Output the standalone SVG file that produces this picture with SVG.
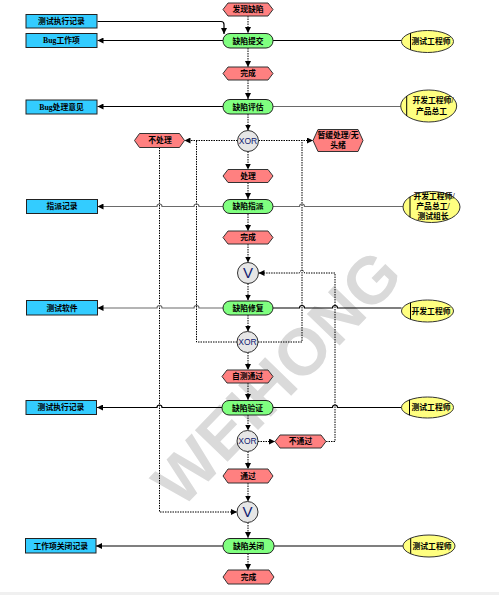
<svg xmlns="http://www.w3.org/2000/svg" width="499" height="595" viewBox="0 0 499 595">
<style>
.t{font-family:"Liberation Serif","Noto Sans CJK SC",serif;font-size:7.8px;fill:#000;text-anchor:middle;font-weight:bold}
.s{font-family:"Liberation Sans",Arial,sans-serif;fill:#101a70;text-anchor:middle}
.blue{fill:#33ccff;stroke:#222;stroke-width:1}
.green{fill:#80ff80;stroke:#222;stroke-width:1}
.red{fill:#ff8080;stroke:#333;stroke-width:1}
.yel{fill:#ffff80;stroke:#333;stroke-width:1}
.gate{fill:#e6e6e6;stroke:#333;stroke-width:1}
.dot{fill:none;stroke:#000;stroke-width:1;stroke-dasharray:1.5 1}
.sol{fill:none;stroke:#000;stroke-width:1.2}
.gry{fill:none;stroke:#6a6a6a;stroke-width:1.2}
.wm{font-family:"Liberation Sans",Arial,sans-serif;font-size:66px;font-weight:bold;fill:#dadada;text-anchor:middle}
</style>
<defs>
<marker id="a" viewBox="0 0 10 10" refX="10" refY="5" markerWidth="6" markerHeight="6" markerUnits="userSpaceOnUse" orient="auto"><path d="M0,0 L10,5 L0,10 z" fill="#000"/></marker>
</defs>
<rect x="0" y="0" width="499" height="595" fill="#fff"/>
<rect x="0" y="592" width="499" height="3" fill="#f0f0f0"/>
<text class="wm" transform="translate(276,377) rotate(-46)" x="0" y="24">WEIHONG</text>

<g id="connectors">
<path class="dot" marker-end="url(#a)" d="M248,16 V33"/>
<path class="dot" marker-end="url(#a)" d="M248,48 V67"/>
<path class="dot" marker-end="url(#a)" d="M248,80 V99"/>
<path class="dot" marker-end="url(#a)" d="M248,114 V130.5"/>
<path class="dot" marker-end="url(#a)" d="M248,151.5 V169.5"/>
<path class="dot" marker-end="url(#a)" d="M248,182.5 V199"/>
<path class="dot" marker-end="url(#a)" d="M248,214 V231"/>
<path class="dot" marker-end="url(#a)" d="M248,244 V262.5"/>
<path class="dot" marker-end="url(#a)" d="M248,283.5 V300.5"/>
<path class="dot" marker-end="url(#a)" d="M248,315 V331.5"/>
<path class="dot" marker-end="url(#a)" d="M248,352.5 V370"/>
<path class="dot" marker-end="url(#a)" d="M248,383 V400"/>
<path class="dot" marker-end="url(#a)" d="M248,415 V430.5"/>
<path class="dot" marker-end="url(#a)" d="M248,451.5 V469"/>
<path class="dot" marker-end="url(#a)" d="M248,483 V501.5"/>
<path class="dot" marker-end="url(#a)" d="M248,522.5 V538"/>
<path class="dot" marker-end="url(#a)" d="M248,553.5 V570"/>
<path class="dot" marker-end="url(#a)" d="M237.5,140.5 H184.5"/>
<path class="dot" marker-end="url(#a)" d="M258.5,140.5 H313"/>
<path class="dot" d="M237,342 H196.5 V140.5"/>
<path class="dot" d="M258,342 H302 V140.5"/>
<path class="dot" marker-end="url(#a)" d="M159.5,147.5 V512 H237"/>
<path class="dot" marker-end="url(#a)" d="M258,441.5 H275"/>
<path class="dot" marker-end="url(#a)" d="M326,441.5 H335 V273 H304.5 A2.5,2.5 0 0 0 299.5,273 H258.5"/>
<path class="sol" marker-end="url(#a)" d="M97.5,21.5 H221 Q224,21.5 224,24.5 V34"/>
<path class="sol" marker-end="url(#a)" d="M223,40.5 H97.5"/>
<path class="sol" d="M273,40.5 H401.5"/>
<path class="sol" marker-end="url(#a)" d="M223,106.5 H97.5"/>
<path class="gry" d="M273,106.5 H400.7"/>
<path class="gry" marker-end="url(#a)" d="M223,206.5 H199 A2.5,2.5 0 0 0 194,206.5 H162 A2.5,2.5 0 0 0 157,206.5 H97.5"/>
<path class="gry" d="M273,206.5 H299.5 A2.5,2.5 0 0 1 304.5,206.5 H403"/>
<path class="gry" marker-end="url(#a)" d="M223,308 H199 A2.5,2.5 0 0 0 194,308 H162 A2.5,2.5 0 0 0 157,308 H97.5"/>
<path class="sol" d="M273,308 H299.5 A2.5,2.5 0 0 1 304.5,308 H332.5 A2.5,2.5 0 0 1 337.5,308 H401.5"/>
<path class="sol" marker-end="url(#a)" d="M222,407.5 H162 A2.5,2.5 0 0 0 157,407.5 H97"/>
<path class="sol" d="M273,407.5 H332.5 A2.5,2.5 0 0 1 337.5,407.5 H401.5"/>
<path class="sol" marker-end="url(#a)" d="M223,546 H96"/>
<path class="sol" d="M274,546 H403"/>
</g>

<g id="n-found"><polygon class="red" points="223,9.5 228,3 268,3 273,9.5 268,16 228,16"/><text class="t" x="248" y="12.3">发现缺陷</text></g>
<g id="n-rec1"><rect class="blue" x="26" y="14.5" width="71" height="13.5"/><text class="t" x="61.5" y="24">测试执行记录</text></g>
<g id="n-bug"><rect class="blue" x="26" y="33.5" width="71" height="14"/><text class="t" x="61.5" y="43.3">Bug工作项</text></g>
<g id="n-submit"><rect class="green" x="223" y="33.5" width="50" height="14.5" rx="7"/><text class="t" x="248" y="43.5">缺陷提交</text></g>
<g id="n-r1"><ellipse class="yel" cx="427.5" cy="41.5" rx="26" ry="11"/><line x1="410.5" y1="33.2" x2="410.5" y2="49.8" stroke="#000" stroke-width="1"/><text class="t" x="431" y="44.3">测试工程师</text></g>
<g id="n-done1"><polygon class="red" points="223,73.5 228,67 268,67 273,73.5 268,80 228,80"/><text class="t" x="248" y="76.3">完成</text></g>
<g id="n-opinion"><rect class="blue" x="26" y="100" width="71" height="14"/><text class="t" x="61.5" y="109.8">Bug处理意见</text></g>
<g id="n-eval"><rect class="green" x="223" y="99.5" width="50" height="14.5" rx="7"/><text class="t" x="248" y="109.5">缺陷评估</text></g>
<g id="n-r2"><ellipse class="yel" cx="428.7" cy="106" rx="28" ry="16"/><line x1="406.7" y1="96.1" x2="406.7" y2="115.9" stroke="#000" stroke-width="1"/><text class="t" x="433" y="103">开发工程师/</text><text class="t" x="431.5" y="113.8">产品总工</text></g>
<g id="n-xor1"><circle class="gate" cx="248" cy="141" r="10.5"/><text class="s" x="248" y="144" font-size="8.5">XOR</text></g>
<g id="n-noproc"><polygon class="red" points="134.5,140.5 139.5,133.5 179.5,133.5 184.5,140.5 179.5,147.5 139.5,147.5"/><text class="t" x="160" y="143.3">不处理</text></g>
<g id="n-defer"><polygon class="red" points="313,140.5 318,129.5 358,129.5 363,140.5 358,151.5 318,151.5"/><text class="t" x="338" y="137.5">暂缓处理/无</text><text class="t" x="338" y="147.8">头绪</text></g>
<g id="n-proc"><polygon class="red" points="223,176 228,169.5 268,169.5 273,176 268,182.5 228,182.5"/><text class="t" x="248" y="178.8">处理</text></g>
<g id="n-assignrec"><rect class="blue" x="26.5" y="199.5" width="71" height="14"/><text class="t" x="62" y="209.3">指派记录</text></g>
<g id="n-assign"><rect class="green" x="223" y="199.5" width="50" height="14" rx="7"/><text class="t" x="248" y="209.3">缺陷指派</text></g>
<g id="n-r3"><ellipse class="yel" cx="431.5" cy="207" rx="28.5" ry="15.5"/><line x1="410" y1="196.8" x2="410" y2="217.2" stroke="#000" stroke-width="1"/><text class="t" x="434" y="198.8">开发工程师/</text><text class="t" x="433" y="208.8">产品总工/</text><text class="t" x="433" y="218.8">测试组长</text></g>
<g id="n-done2"><polygon class="red" points="223,237.5 228,231 268,231 273,237.5 268,244 228,244"/><text class="t" x="248" y="240.3">完成</text></g>
<g id="n-v1"><circle class="gate" cx="248" cy="273" r="10.5"/><text class="s" x="248" y="278.3" font-size="15">V</text></g>
<g id="n-soft"><rect class="blue" x="26.5" y="300.5" width="71" height="14.5"/><text class="t" x="62" y="310.5">测试软件</text></g>
<g id="n-fix"><rect class="green" x="223" y="301" width="50" height="14" rx="7"/><text class="t" x="248" y="310.8">缺陷修复</text></g>
<g id="n-r4"><ellipse class="yel" cx="427.5" cy="311" rx="26" ry="11"/><line x1="410.5" y1="302.7" x2="410.5" y2="319.3" stroke="#000" stroke-width="1"/><text class="t" x="431" y="313.8">开发工程师</text></g>
<g id="n-xor2"><circle class="gate" cx="247.5" cy="342" r="10.5"/><text class="s" x="247.5" y="345" font-size="8.5">XOR</text></g>
<g id="n-selftest"><polygon class="red" points="222,376.5 227,370 268,370 273,376.5 268,383 227,383"/><text class="t" x="247.5" y="379.3">自测通过</text></g>
<g id="n-rec2"><rect class="blue" x="26" y="400.5" width="70.5" height="14"/><text class="t" x="61" y="410.3">测试执行记录</text></g>
<g id="n-verify"><rect class="green" x="222" y="400.5" width="51" height="14.5" rx="7"/><text class="t" x="247.5" y="410.5">缺陷验证</text></g>
<g id="n-r5"><ellipse class="yel" cx="427.5" cy="407.5" rx="26" ry="10.5"/><line x1="409.5" y1="399.7" x2="409.5" y2="415.3" stroke="#000" stroke-width="1"/><text class="t" x="431" y="410.3">测试工程师</text></g>
<g id="n-xor3"><circle class="gate" cx="247.5" cy="441" r="10.5"/><text class="s" x="247.5" y="444" font-size="8.5">XOR</text></g>
<g id="n-fail"><polygon class="red" points="275,441.5 280,435 321,435 326,441.5 321,448 280,448"/><text class="t" x="300.5" y="444.3">不通过</text></g>
<g id="n-pass"><polygon class="red" points="223,476 228,469 268,469 273,476 268,483 228,483"/><text class="t" x="248" y="478.8">通过</text></g>
<g id="n-v2"><circle class="gate" cx="247.5" cy="512" r="10.5"/><text class="s" x="247.5" y="517.3" font-size="15">V</text></g>
<g id="n-closerec"><rect class="blue" x="25.5" y="538.5" width="70.5" height="14.5"/><text class="t" x="60.7" y="548.5">工作项关闭记录</text></g>
<g id="n-close"><rect class="green" x="223" y="538.5" width="51" height="15" rx="7"/><text class="t" x="248.5" y="548.8">缺陷关闭</text></g>
<g id="n-r6"><ellipse class="yel" cx="429" cy="546" rx="26" ry="11"/><line x1="410.7" y1="538.2" x2="410.7" y2="553.8" stroke="#000" stroke-width="1"/><text class="t" x="432" y="548.8">测试工程师</text></g>
<g id="n-done3"><polygon class="red" points="223,577 228,570 269,570 274,577 269,584 228,584"/><text class="t" x="248.5" y="579.8">完成</text></g>
</svg>
